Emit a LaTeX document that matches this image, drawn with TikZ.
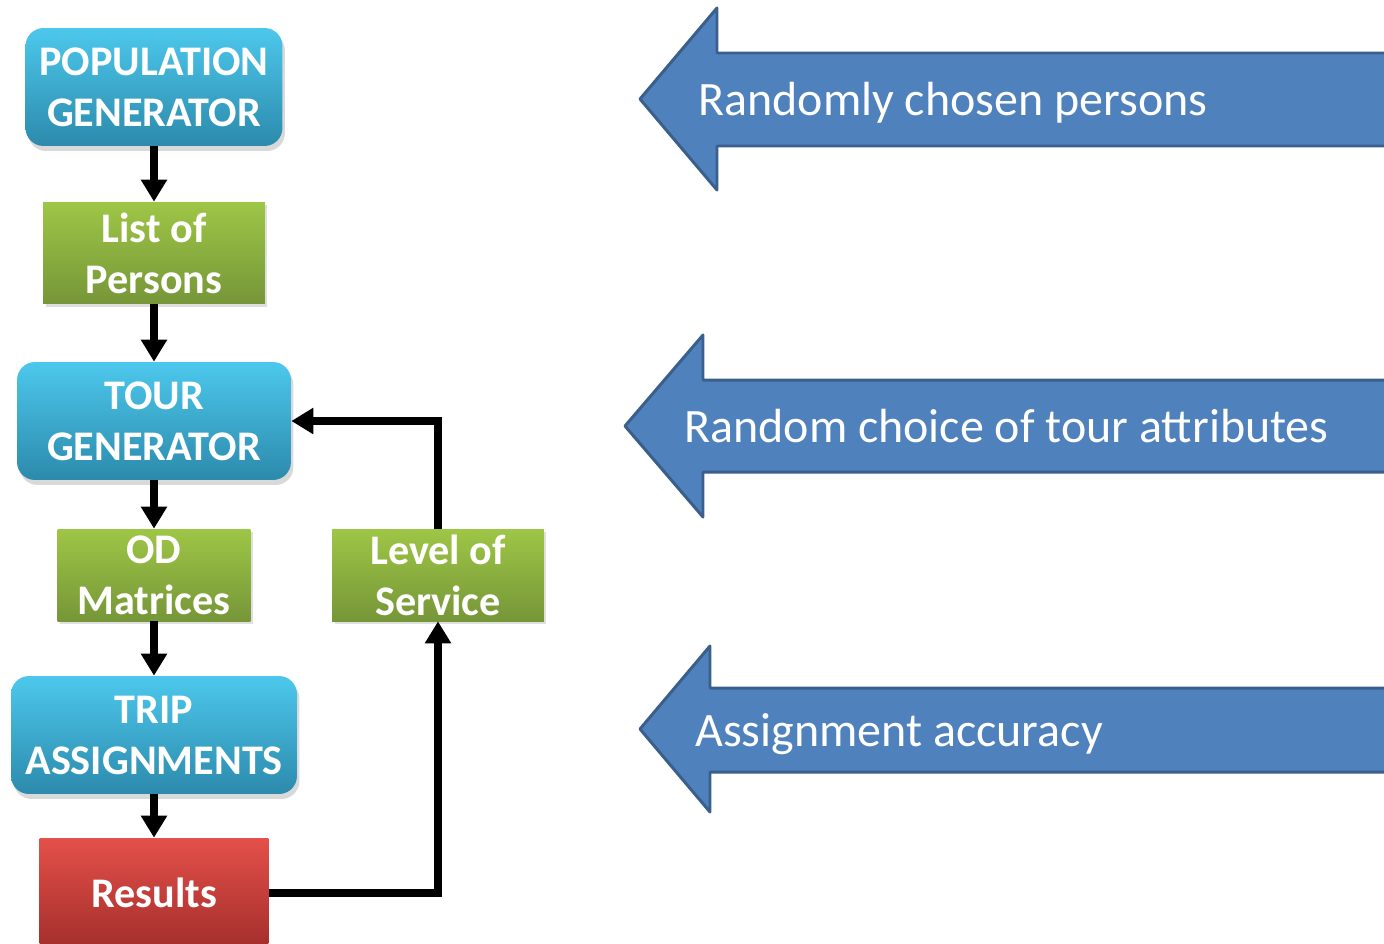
\documentclass[tikz,border=0pt]{standalone}
\usepackage{fontspec}
\setmainfont{Carlito}
\usetikzlibrary{shadows,arrows.meta}

\definecolor{genhi}{RGB}{76,200,236}
\definecolor{genlo}{RGB}{44,138,172}
\definecolor{listhi}{RGB}{158,198,70}
\definecolor{listlo}{RGB}{118,150,56}
\definecolor{reshi}{RGB}{228,80,74}
\definecolor{reslo}{RGB}{164,46,43}
\definecolor{bigfill}{RGB}{79,129,189}
\definecolor{bigline}{RGB}{58,95,140}

\tikzset{
  boxtext/.style={text=white, align=center, font=\fontsize{24}{29}\selectfont\bfseries, inner sep=0pt},
  genbox/.style={boxtext, rounded corners=0.36cm, top color=genhi, bottom color=genlo,
    drop shadow={opacity=0.3, shadow xshift=0.05cm, shadow yshift=-0.1cm}},
  listbox/.style={boxtext, top color=listhi, bottom color=listlo,
    drop shadow={opacity=0.25, shadow xshift=0.05cm, shadow yshift=-0.06cm}},
  resbox/.style={boxtext, top color=reshi, bottom color=reslo},
  flow/.style={line width=4pt, -{Triangle[length=0.44cm,width=0.5cm]}},
  bigarrow/.style={fill=bigfill, draw=bigline, line width=1.7pt, line join=round},
  bigtext/.style={text=white, anchor=base west, inner sep=0pt, font=\fontsize{27.3}{30}\selectfont}
}

\begin{document}
\begin{tikzpicture}[x=0.02cm,y=-0.02cm]
\useasboundingbox (0,0) rectangle (1384,944);

%Flow chart
\node[genbox, minimum width=5.14cm, minimum height=2.36cm] (pop) at (154,87) {POPULATION\\GENERATOR};
\node[listbox, minimum width=4.44cm, minimum height=2.04cm] (list) at (154,253) {List of\\Persons};
\node[genbox, minimum width=5.48cm, minimum height=2.36cm] (tour) at (154,421) {TOUR\\GENERATOR};
\node[listbox, minimum width=3.86cm, minimum height=1.84cm] (od) at (154,575) {OD\\Matrices};
\node[listbox, minimum width=4.24cm, minimum height=1.84cm] (los) at (438,575) {Level of\\Service};
\node[genbox, minimum width=5.72cm, minimum height=2.36cm] (trip) at (154,735) {TRIP\\ASSIGNMENTS};
\node[resbox, minimum width=4.58cm, minimum height=2.2cm] (res) at (154,893) {Results};

\draw[flow] (pop) -- (list); \draw[flow] (list) -- (tour); \draw[flow] (tour) -- (od); \draw[flow] (od) -- (trip); \draw[flow] (trip) -- (res);

%Feedback loop
\draw[flow] (res.east) -| (los.south);
\draw[flow] (los.north) |- (tour.east);

%Big arrows
\draw[bigarrow] (1400,53) -- (717,53) -- (717,8) -- (640,99) -- (717,190) -- (717,146) -- (1400,146) -- cycle;
\node[bigtext] (persons) at (698,115) {Randomly chosen persons};

\draw[bigarrow] (1400,380) -- (703,380) -- (703,335) -- (625,426) -- (703,517) -- (703,472) -- (1400,472) -- cycle;
\node[bigtext] (attrs) at (684,442) {Random choice of tour attributes};

\draw[bigarrow] (1400,688) -- (710,688) -- (710,646) -- (640,729) -- (710,812) -- (710,772) -- (1400,772) -- cycle;
\node[bigtext] (accuracy) at (695,746) {Assignment accuracy};

\end{tikzpicture}
\end{document}
